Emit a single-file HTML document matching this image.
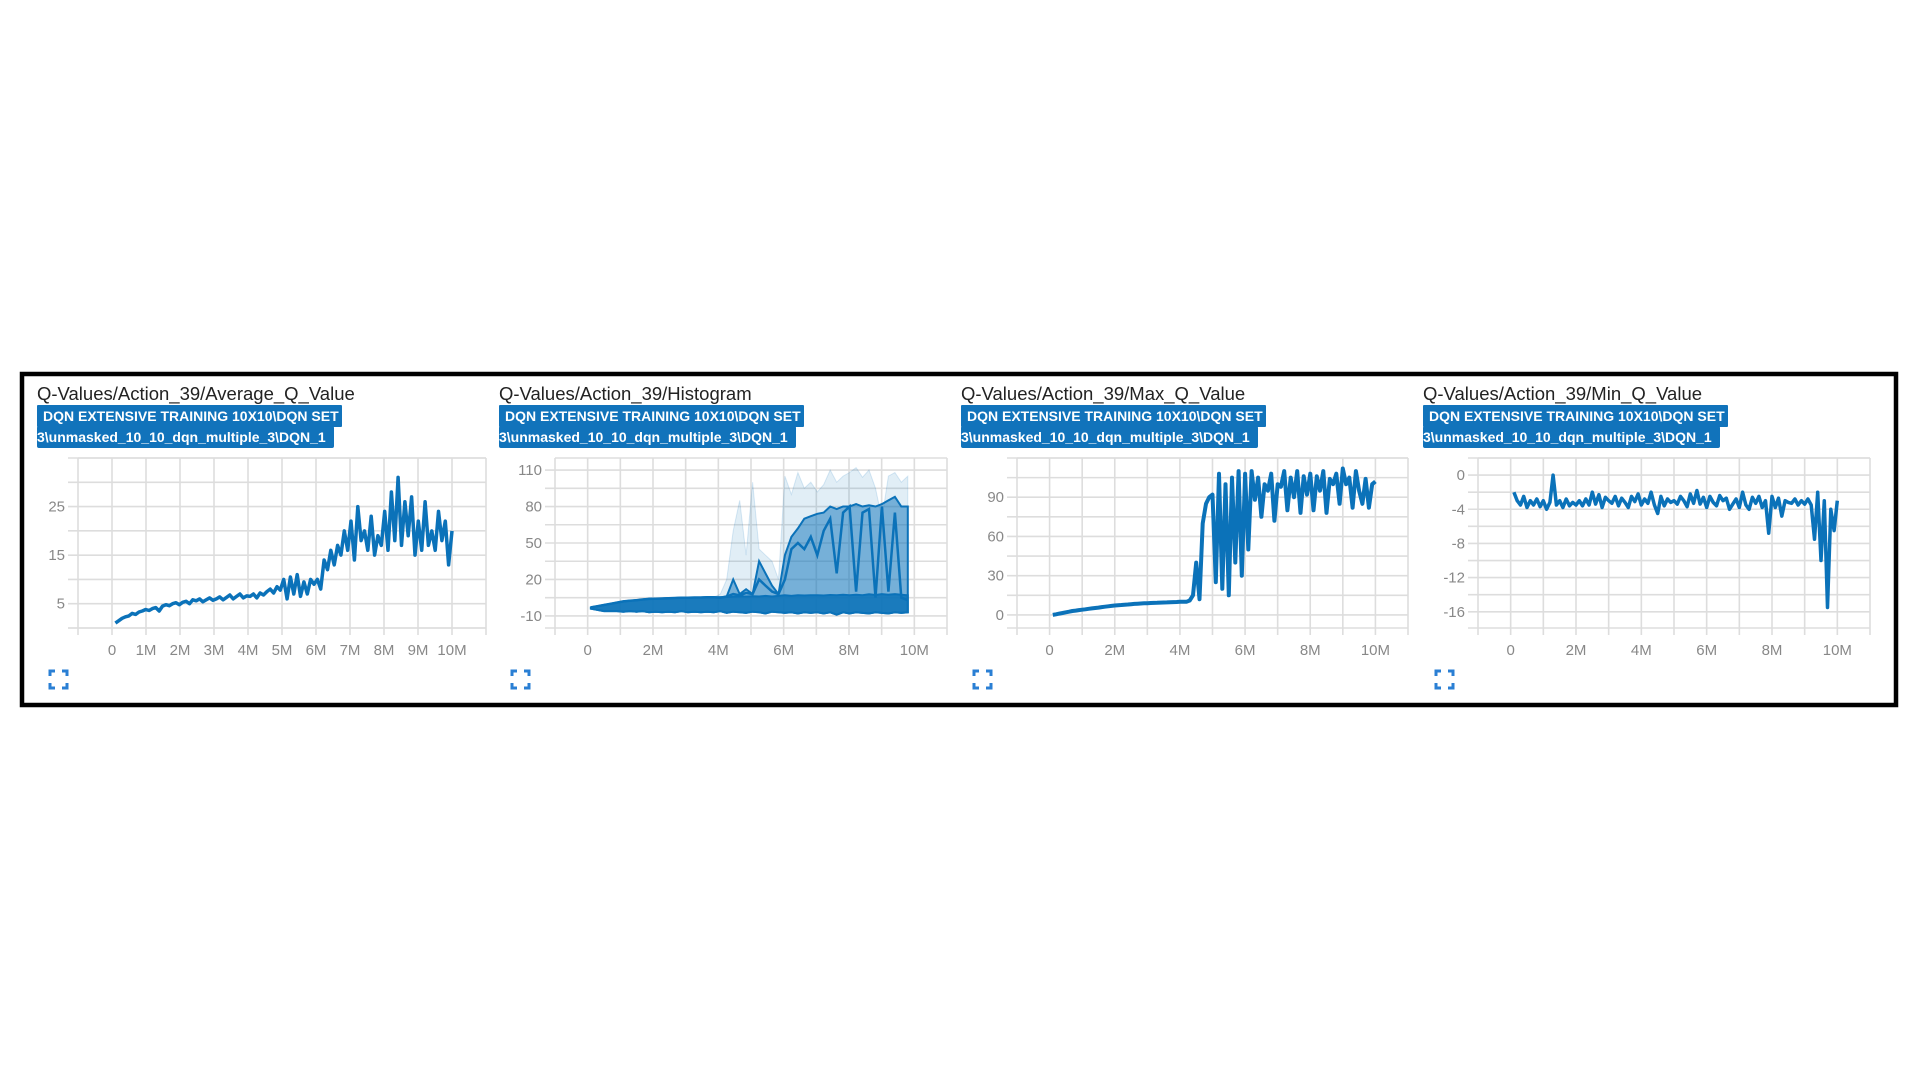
<!DOCTYPE html>
<html><head><meta charset="utf-8"><style>
html,body{margin:0;padding:0;background:#fff;width:1920px;height:1080px;overflow:hidden;font-family:"Liberation Sans",sans-serif}
</style></head><body>
<svg id="s" width="1920" height="1080" xmlns="http://www.w3.org/2000/svg">
<rect x="22" y="374" width="1874" height="331" fill="none" stroke="#000" stroke-width="4.5"/>
</svg>
<script>
const xTickLabels1=["0","1M","2M","3M","4M","5M","6M","7M","8M","9M","10M"];
const xTickLabels=["0","2M","4M","6M","8M","10M"];
const titles=["Q-Values/Action_39/Average_Q_Value","Q-Values/Action_39/Histogram","Q-Values/Action_39/Max_Q_Value","Q-Values/Action_39/Min_Q_Value"];
const yTicks1=[5,15,25], yTicks2=[-10,20,50,80,110], yTicks3=[0,30,60,90], yTicks4=[0,-4,-8,-12,-16];
const avgValues=[1,1.5,2,2.3,2.5,3,2.8,3.3,3.5,3.8,3.6,4,4.2,3.5,4.5,4.8,4.6,5,5.2,4.8,5.3,5.5,5,5.8,5.6,6,5.4,5.8,6.2,5.7,6,6.4,5.8,6.3,6.8,6,6.5,7,6.2,6.6,6.5,7,6.2,7.2,6.8,7.5,8,7.2,8.5,7.8,10,6,10.5,7,11,6.5,9.5,7,10,9,10,8,14,12,16,13,17,15,20,16,22,14,25,18,20,16,23,15,19,17,24,16,28,18,31,17,26,19,27,15,22,16,26,17,20,16,24,18,22,13,20];
const maxValues=[0,0.5,1,1.5,2,2.5,3,3.3,3.7,4,4.3,4.7,5,5.3,5.6,6,6.3,6.6,6.9,7.2,7.4,7.6,7.8,8,8.2,8.4,8.6,8.7,8.9,9,9.1,9.2,9.3,9.4,9.5,9.6,9.7,9.8,9.9,10,10,10,11,15,40,12,70,85,90,92,25,108,20,100,15,105,40,110,30,108,50,110,88,105,75,100,95,108,72,100,98,110,80,105,90,110,78,106,92,108,80,106,95,110,78,104,100,108,85,112,100,105,82,110,95,85,104,82,100,102];
const minValues=[-2,-3,-3.5,-2.5,-3.8,-3,-3.5,-2.8,-3.7,-3,-4,-3.2,0,-3.5,-3,-3.8,-2.8,-3.6,-3.2,-3.5,-3,-3.6,-2.8,-3.5,-2,-3.4,-2.3,-3.8,-2.6,-3,-3.3,-2.5,-3.6,-2.7,-3.2,-3.8,-2.5,-3.1,-2.2,-3.5,-2.8,-3.3,-2,-3.5,-4.5,-2.5,-3.6,-2.8,-3.2,-3,-3.4,-2.5,-3,-3.7,-2.2,-3.3,-1.8,-3.4,-2.6,-3.8,-2.5,-3.2,-3.6,-2.4,-3,-2.7,-4,-3.4,-2.8,-3.8,-2,-3.5,-4,-2.6,-3.3,-2.5,-3.8,-3,-6.8,-2.5,-3.8,-2.7,-4.8,-3,-3.2,-3.3,-2.8,-3.5,-3,-3.4,-2.8,-3.5,-7.5,-2,-10,-3,-15.5,-4,-6.5,-3];
const histOuter=[-3,-2,-1,0,1,2,2.5,3,3.5,4,4.2,4.4,4.6,4.8,5,5,5.2,5.2,5.4,5.4,8,20,60,85,40,100,45,40,35,20,105,90,108,95,100,92,98,110,100,105,108,112,104,110,95,70,105,108,100,105];
const histUpper=[-3,-2,-1,0,1,2,2.5,3,3.5,4,4.2,4.4,4.6,4.8,5,5,5.2,5.2,5.4,5.4,5,6,20,8,12,8,35,25,15,8,40,55,62,70,72,74,75,80,78,80,80,82,80,81,80,82,85,88,80,80];
const histInner=[-3,-2,-1,0,1,2,2.5,3,3.5,4,4.2,4.4,4.6,4.8,5,5,5.2,5.2,5.4,5.4,5,6,8,7,9,8,20,15,10,8,20,45,50,45,55,40,60,70,25,75,80,10,75,78,5,80,10,75,5,3];
const histCore=[-3,-2,-1,0,1,2,2.5,3,3.5,4,4.2,4.4,4.6,4.8,5,5,5.2,5.2,5.4,5.4,5.5,5.6,5.8,6,6,6.2,6,6.5,6,6.5,7,6.5,7,6.8,7,7,6.8,7.2,7,7.5,7,7.5,7,7.8,7.2,8,7.5,8,7.5,7];
const histBottom=[-4,-5,-6,-6,-6,-6.5,-6,-6.5,-6,-7,-6.5,-7,-6.5,-7,-6,-7,-6.5,-7,-6.5,-7,-6,-7.5,-6.5,-7,-7.5,-6.5,-7,-8,-6.5,-7,-7.5,-7,-8,-7,-7.5,-7,-8,-7,-9,-7,-8,-7,-7.5,-8,-7,-7.5,-8,-7,-7.5,-7];

const NS="http://www.w3.org/2000/svg";
const svg=document.getElementById('s');
function mk(tag,attrs,parent){const e=document.createElementNS(NS,tag);for(const k in attrs)e.setAttribute(k,attrs[k]);(parent||svg).appendChild(e);return e;}
const panels=[
 {px:37,xl:78,xr:486,top:458,bot:628,yMin:0,yMax:35,gStart:0,gStep:5,yt:yTicks1,xt:xTickLabels1,xs:1},
 {px:499,xl:555,xr:947,top:458,bot:628,yMin:-19.9,yMax:119.9,gStart:-10,gStep:15,yt:yTicks2,xt:xTickLabels,xs:2},
 {px:961,xl:1017,xr:1408,top:458,bot:628,yMin:-10,yMax:120,gStart:0,gStep:15,yt:yTicks3,xt:xTickLabels,xs:2},
 {px:1423,xl:1478,xr:1870,top:458,bot:628,yMin:-17.9,yMax:2,gStart:-16,gStep:2,yt:yTicks4,xt:xTickLabels,xs:2}
];
const names=['average-q-chart','histogram-chart','max-q-chart','min-q-chart'];
panels.forEach((p,i)=>{
 const g=mk('g',{});
 
 
 p.X=v=>p.xl+(v+1)/12*(p.xr-p.xl);
 p.Y=v=>p.bot-(v-p.yMin)/(p.yMax-p.yMin)*(p.bot-p.top);
 const t=mk('text',{x:p.px,y:400,'font-size':18.5,fill:'#222'},g);t.textContent=titles[i];
 
 
 const tag=mk('g',{},g);
 
 
 mk('rect',{x:p.px,y:405,width:305,height:22,fill:'#1173bb',rx:1},tag);
 mk('rect',{x:p.px,y:426,width:297,height:22,fill:'#1173bb',rx:2},tag);
 const l1=mk('text',{x:p.px+6,y:421,'font-size':14,'font-weight':'bold',fill:'#fff'},tag);l1.textContent='DQN EXTENSIVE TRAINING 10X10\\DQN SET';
 const l2=mk('text',{x:p.px,y:442,'font-size':14,'font-weight':'bold',fill:'#fff'},tag);l2.textContent='3\\unmasked_10_10_dqn_multiple_3\\DQN_1';
 const grid=mk('g',{stroke:'#ddd','stroke-width':1.6},g);
 
 
 for(let m=-1;m<=11;m++){mk('line',{x1:p.X(m),x2:p.X(m),y1:p.top,y2:p.bot+7},grid);}
 mk('line',{x1:p.xl,x2:p.xr,y1:p.top,y2:p.top},grid);
 mk('line',{x1:p.xl-10,x2:p.xr,y1:p.bot,y2:p.bot},grid);
 for(let v=p.gStart;v<=p.yMax;v+=p.gStep){mk('line',{x1:p.xl-10,x2:p.xr,y1:p.Y(v),y2:p.Y(v)},grid);}
 p.yt.forEach(v=>{const e=mk('text',{x:p.xl-13,y:p.Y(v)+5,'font-size':15,fill:'#888','text-anchor':'end'},g);e.textContent=v;
  
  });
 p.xt.forEach((s,k)=>{const e=mk('text',{x:p.X(k*p.xs),y:655,'font-size':15,fill:'#888','text-anchor':'middle'},g);e.textContent=s;
  
  });
 const ic=mk('g',{stroke:'#2a7fd4','stroke-width':3,fill:'none'},g);
 
 
 const ix=p.px+13, iy=671, s=17;
 mk('path',{d:`M${ix} ${iy+5}V${iy}H${ix+5} M${ix+s-5} ${iy}H${ix+s}V${iy+5} M${ix} ${iy+s-5}V${iy+s}H${ix+5} M${ix+s-5} ${iy+s}H${ix+s}V${iy+s-5}`},ic);
 p.g=g;
});
function linePath(p,vals,x0,x1){return vals.map((v,k)=>(k?'L':'M')+p.X(x0+k*(x1-x0)/(vals.length-1)).toFixed(1)+' '+p.Y(v).toFixed(1)).join('');}
function areaPath(p,top,bottom,x0,x1){const n=top.length;let d=linePath(p,top,x0,x1);for(let k=n-1;k>=0;k--){d+='L'+p.X(x0+k*(x1-x0)/(n-1)).toFixed(1)+' '+p.Y(bottom[k]).toFixed(1);}return d+'Z';}
const C='#0b72b9';
let e;
e=mk('path',{d:linePath(panels[0],avgValues,0.1,10),fill:'none',stroke:C,'stroke-width':3.5,'stroke-linejoin':'round'},panels[0].g);


e=mk('path',{d:areaPath(panels[1],histOuter,histBottom,0.1,9.8),fill:C,'fill-opacity':0.12,stroke:C,'stroke-opacity':0.15},panels[1].g);


e=mk('path',{d:areaPath(panels[1],histUpper,histBottom,0.1,9.8),fill:C,'fill-opacity':0.5,stroke:C,'stroke-width':2},panels[1].g);


e=mk('path',{d:linePath(panels[1],histInner,0.1,9.8),fill:'none',stroke:C,'stroke-width':2.5},panels[1].g);


e=mk('path',{d:areaPath(panels[1],histCore,histBottom,0.1,9.8),fill:C,'fill-opacity':0.85,stroke:C,'stroke-width':2},panels[1].g);


e=mk('path',{d:linePath(panels[2],maxValues,0.1,10),fill:'none',stroke:C,'stroke-width':4,'stroke-linejoin':'round'},panels[2].g);


e=mk('path',{d:linePath(panels[3],minValues,0.1,10),fill:'none',stroke:C,'stroke-width':3.5,'stroke-linejoin':'round'},panels[3].g);


</script>
</body></html>
